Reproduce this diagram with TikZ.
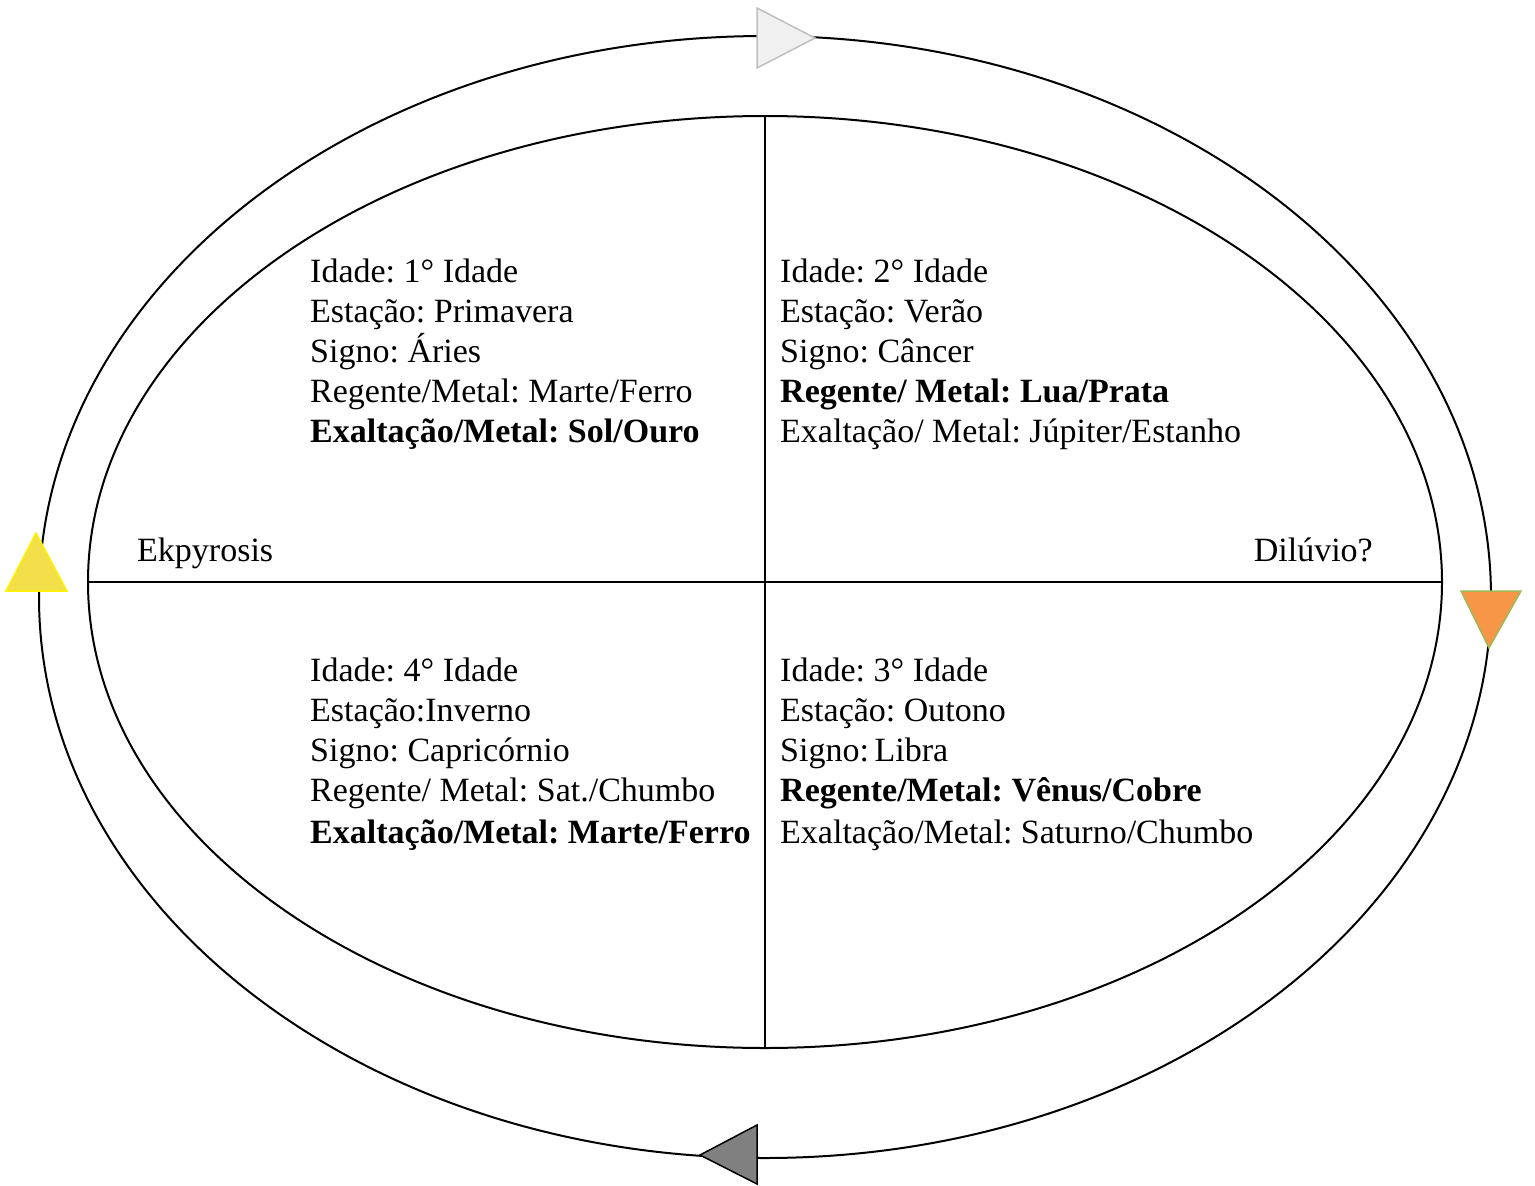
\documentclass[tikz,border=0pt]{standalone}
\usepackage{fontspec}
\setmainfont{Liberation Serif}
\usepackage{xcolor}
\usetikzlibrary{shapes.geometric, positioning}
\frenchspacing

\definecolor{triyellow}{HTML}{F2DF4A}
\definecolor{trigray}{HTML}{F0F0F0}
\definecolor{triorange}{HTML}{F79646}
\definecolor{trigreen}{HTML}{9BBB59}

\begin{document}
\begin{tikzpicture}[
    x=1pt, y=-1pt,
    ring/.style={ellipse, draw=black, line width=2pt, inner sep=0pt, outer sep=0pt},
    divider/.style={draw=black, line width=2pt},
    info/.style={anchor=base west, align=left, inner sep=0pt, font=\fontsize{34}{40}\selectfont},
    label/.style={anchor=base west, inner sep=0pt, font=\fontsize{34}{40}\selectfont},
    arrowtri/.style={line width=1.5pt, line join=miter}
]
\useasboundingbox (0,0) rectangle (1535,1186);

% Cycle rings
\node[ring, minimum width=1452pt, minimum height=1122pt] (outer) at (765,597) {};
\node[ring, minimum width=1354pt, minimum height=932pt] (inner) at (765,582) {};

% Quadrant dividers
\draw[divider] (inner.west) -- (inner.east);
\draw[divider] (inner.north) -- (inner.south);

% Quadrant texts (anchored at the baseline of the last line)
\node[info] (first) at (310,442) {Idade: 1° Idade\\Estação: Primavera\\Signo: Áries\\Regente/Metal: Marte/Ferro\\\textbf{Exaltação/Metal: Sol/Ouro}};
\node[info] (second) at (780,442) {Idade: 2° Idade\\Estação: Verão\\Signo: Câncer\\\textbf{Regente/ Metal: Lua/Prata}\\Exaltação/ Metal: Júpiter/Estanho};
\node[info] (fourth) at (310,843) {Idade: 4° Idade\\Estação:Inverno\\Signo: Capricórnio\\Regente/ Metal: Sat./Chumbo\\[2pt]\textbf{Exaltação/Metal: Marte/Ferro}};
\node[info] (third) at (780,843) {Idade: 3° Idade\\Estação: Outono\\Signo:\,Libra\\\textbf{Regente/Metal: Vênus/Cobre}\\[2pt]Exaltação/Metal: Saturno/Chumbo};

% Side labels
\node[label] (ekpyrosis) at (137,561) {Ekpyrosis};
\node[label, anchor=base east] (diluvio) at (1373,561) {Dilúvio?};

% Direction triangles
\draw[arrowtri, draw=gray!50, fill=trigray] (757,8) -- (815,38) -- (757,68) -- cycle;
\draw[arrowtri, draw=trigreen, fill=triorange] (1461,591) -- (1521,591) -- (1489,648) -- cycle;
\draw[arrowtri, draw=black, fill=gray] (757,1125) -- (700,1155) -- (757,1184) -- cycle;
\draw[arrowtri, draw=yellow, fill=triyellow] (6,591) -- (36,533) -- (67,591) -- cycle;

\end{tikzpicture}
\end{document}
